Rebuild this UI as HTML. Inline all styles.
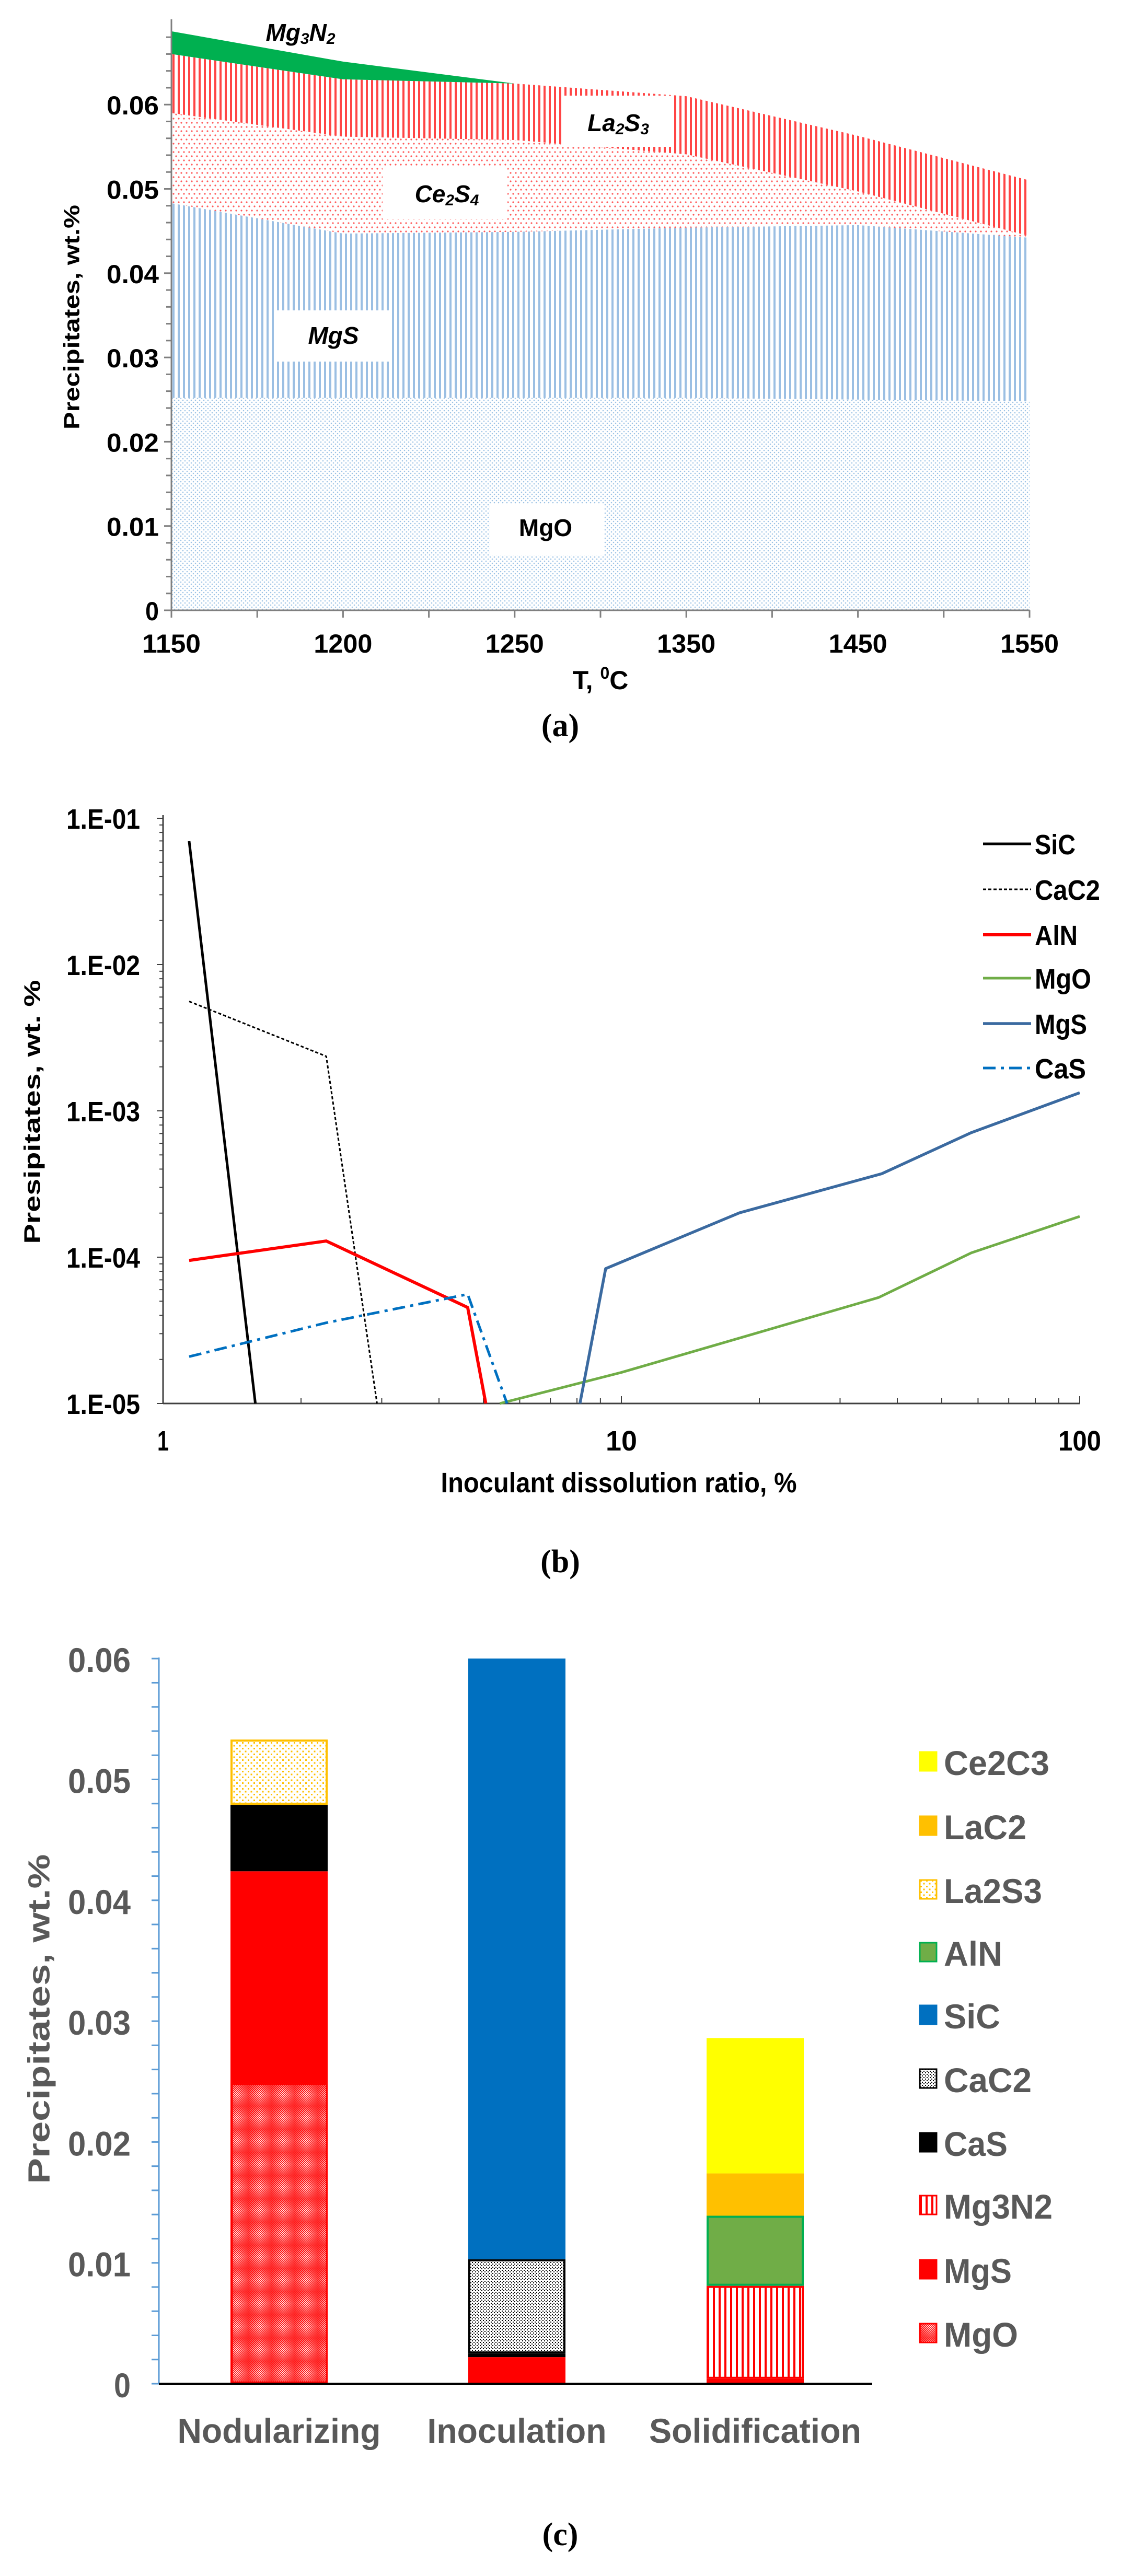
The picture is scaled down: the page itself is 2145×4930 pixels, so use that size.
<!DOCTYPE html>
<html><head><meta charset="utf-8">
<style>
html,body{margin:0;padding:0;background:#fff;}
svg{display:block;}
text{font-family:"Liberation Sans",Arial,sans-serif;}
text.serif{font-family:"Liberation Serif","Times New Roman",serif;}
</style></head>
<body>
<svg id="root" xmlns="http://www.w3.org/2000/svg" width="2145" height="4930" viewBox="0 0 2145 4930">
<defs>
<pattern id="pMgO" width="8" height="8" patternUnits="userSpaceOnUse"><circle cx="2" cy="2" r="1.3" fill="#9dc3e6"/><circle cx="6" cy="6" r="1.3" fill="#9dc3e6"/></pattern>
<pattern id="pMgS" width="10" height="10" patternUnits="userSpaceOnUse"><rect x="0" y="0" width="4" height="10" fill="#9bbfe3"/></pattern>
<pattern id="pCe" width="10" height="16" patternUnits="userSpaceOnUse"><circle cx="2" cy="3" r="1.6" fill="#ff5a5a"/><circle cx="7" cy="11" r="1.6" fill="#ff5a5a"/></pattern>
<pattern id="pLa" width="10" height="10" patternUnits="userSpaceOnUse"><rect x="0" y="0" width="4" height="10" fill="#ff4545"/></pattern>
<pattern id="cLa2S3" width="11" height="11" patternUnits="userSpaceOnUse"><rect width="11" height="11" fill="#fff"/><rect x="1" y="1" width="3" height="3" fill="#ffc000"/><rect x="6.5" y="6.5" width="3" height="3" fill="#ffc000"/></pattern>
<pattern id="cCaC2" width="6" height="6" patternUnits="userSpaceOnUse"><rect width="6" height="6" fill="#fff"/><rect x="0" y="0" width="2" height="2" fill="#000"/><rect x="3" y="3" width="2" height="2" fill="#000"/></pattern>
<pattern id="cMg3N2" width="11" height="11" patternUnits="userSpaceOnUse"><rect width="11" height="11" fill="#fff"/><rect x="0" y="0" width="4" height="11" fill="#ff0000"/></pattern>
<pattern id="cMgO" width="4" height="4" patternUnits="userSpaceOnUse"><rect width="4" height="4" fill="#ff1a1a"/><rect x="0" y="0" width="1.3" height="1.3" fill="#fff"/><rect x="2" y="2" width="1.3" height="1.3" fill="#fff"/></pattern>
</defs>
<g id="ga"></g>
<g id="gb"></g>
<g id="gc"></g>
</svg>
<script>
// ---------- Chart (a) data ----------
const tempLabels = ["1150","1200","1250","1350","1450","1550"];
const aMgO   = [0.0252,0.0252,0.0252,0.0252,0.0250,0.0248];
const aMgS   = [0.0231,0.0195,0.0197,0.0202,0.0207,0.0194];
const aCe2S4 = [0.0107,0.0115,0.0109,0.0087,0.0040,0.0002];
const aLa2S3 = [0.0070,0.0068,0.0067,0.0069,0.0066,0.0066];
const aMg3N2 = [0.0027,0.0021,0.0000,0.0000,0.0000,0.0000];
const aYTicks = [0,0.01,0.02,0.03,0.04,0.05,0.06];
const aYTickLabels = ["0","0.01","0.02","0.03","0.04","0.05","0.06"];

// ---------- Chart (b) data ----------
const sicX = [1.14,1.59];           const sicY = [0.0697,1e-5];
const cac2X = [1.14,2.27,2.93];     const cac2Y = [0.0056,0.00236,1e-5];
const alnX = [1.14,2.27,4.62,5.06]; const alnY = [9.5e-5,1.29e-4,4.53e-5,1e-5];
const mgoX = [5.43,10,18.1,36.4,58,100]; const mgoY = [1e-5,1.63e-5,2.8e-5,5.3e-5,1.07e-4,1.9e-4];
const mgsX = [8.12,9.24,18.1,37,58,100]; const mgsY = [1e-5,8.35e-5,2.01e-4,3.72e-4,7.1e-4,1.33e-3];
const casX = [1.14,2.26,4.62,5.63];  const casY = [2.09e-5,3.55e-5,5.58e-5,1e-5];
const bYTicks = [0.1,0.01,0.001,0.0001,0.00001];
const bYTickLabels = ["1.E-01","1.E-02","1.E-03","1.E-04","1.E-05"];
const bXTicks = [1,10,100];
const bXTickLabels = ["1","10","100"];
const bLegendNames = ["SiC","CaC2","AlN","MgO","MgS","CaS"];

// ---------- Chart (c) data ----------
const stages = ["Nodularizing","Inoculation","Solidification"];
const cMgO    = [0.0249,0,0];
const cMgS    = [0.0175,0.0022,0.0004];
const cMg3N2  = [0,0,0.0077];
const cCaS    = [0.0055,0.0003,0];
const cCaC2   = [0,0.0078,0];
const cSiC    = [0,0.0497,0];
const cAlN    = [0,0,0.0058];
const cLa2S3  = [0.0054,0,0];
const cLaC2   = [0,0,0.0035];
const cCe2C3  = [0,0,0.0112];
const cYTicks = [0,0.01,0.02,0.03,0.04,0.05,0.06];
const cYTickLabels = ["0","0.01","0.02","0.03","0.04","0.05","0.06"];

const NS="http://www.w3.org/2000/svg";
function mk(parent,tag,attrs){const e=document.createElementNS(NS,tag);for(const k in attrs)e.setAttribute(k,attrs[k]);parent.appendChild(e);return e;}
function txt(parent,x,y,s,attrs){const e=mk(parent,'text',Object.assign({x:x,y:y,'dominant-baseline':'central'},attrs));e.textContent=s;return e;}

// ================= Chart A =================
const ga=document.getElementById('ga');
const aL=328,aR=1970,aY0=1168,aPer=16130,aTop=37;
const aX=i=>aL+i*(aR-aL)/(tempLabels.length-1);
const aY=v=>aY0-v*aPer;
const layersA=[[aMgO,'url(#pMgO)','area-mgo'],[aMgS,'url(#pMgS)','area-mgs'],[aCe2S4,'url(#pCe)','area-ce2s4'],[aLa2S3,'url(#pLa)','area-la2s3'],[aMg3N2,'#00b050','area-mg3n2']];
let base=tempLabels.map(()=>0);
layersA.forEach(([vals,fill,name])=>{
  const top=base.map((b,i)=>b+vals[i]);
  let pts=top.map((v,i)=>aX(i)+','+aY(v));
  for(let i=base.length-1;i>=0;i--)pts.push(aX(i)+','+aY(base[i]));
  const p=mk(ga,'polygon',{points:pts.join(' '),fill:fill});
  
  
  base=top;
});
const aLabels=[[1077,183,209,98,'label-la2s3'],[732,317,239,103,'label-ce2s4'],[529,594,217,98,'label-mgs'],[937,964,219,99,'label-mgo']];
aLabels.forEach(l=>{
  const r=mk(ga,'rect',{x:l[0],y:l[1],width:l[2],height:l[3],fill:'#fff'});
  
  
});
function chemLabel(x,y,parts,italic,name){
  const t=mk(ga,'text',{x:x,y:y,'text-anchor':'middle','font-size':46,'font-weight':'bold','font-style':italic?'italic':'normal','dominant-baseline':'central'});
  
  
  parts.forEach((p,i)=>{if(!p)return;const s=mk(t,'tspan',{});if(i%2===1){s.setAttribute('font-size',30);s.setAttribute('dy',12);}else if(i>0){s.setAttribute('dy',-12);}s.textContent=p;});
}
chemLabel(575,62,['Mg','3','N','2'],true,'label-mg3n2');
chemLabel(1183,235,['La','2','S','3'],true,'label-la2s3');
chemLabel(855,371,['Ce','2','S','4'],true,'label-ce2s4');
chemLabel(638,642,['MgS'],true,'label-mgs');
chemLabel(1044,1010,['MgO'],false,'label-mgo');
let ax=mk(ga,'line',{x1:aL,y1:aTop,x2:aL,y2:aY0,stroke:'#7f7f7f','stroke-width':3});

ax=mk(ga,'line',{x1:aL,y1:aY0,x2:aR,y2:aY0,stroke:'#7f7f7f','stroke-width':3});

for(let v=0;v<=0.0681;v+=0.002){const maj=Math.abs(v*100-Math.round(v*100))<1e-6;mk(ga,'line',{x1:aL-(maj?14:10),y1:aY(v),x2:aL,y2:aY(v),stroke:'#7f7f7f','stroke-width':3});}
aYTicks.forEach((v,i)=>{const t=txt(ga,aL-24,aY(v)+2,aYTickLabels[i],{'text-anchor':'end','font-size':50,'font-weight':'bold',textLength:(i===0?26:100),lengthAdjust:'spacingAndGlyphs'});
  });
for(let i=0;i<=10;i++){const x=aL+i*(aR-aL)/10;mk(ga,'line',{x1:x,y1:aY0,x2:x,y2:aY0+14,stroke:'#7f7f7f','stroke-width':3});}
tempLabels.forEach((s,i)=>{const t=txt(ga,aX(i),1232,s,{'text-anchor':'middle','font-size':50,'font-weight':'bold',textLength:112,lengthAdjust:'spacingAndGlyphs'});
  });
let tt=mk(ga,'text',{x:1149,y:1302,'text-anchor':'middle','font-size':50,'font-weight':'bold','dominant-baseline':'central'});
tt.innerHTML='T, <tspan font-size="32" dy="-14">0</tspan><tspan dy="14">C</tspan>';

tt=txt(ga,0,0,'Precipitates, wt.%',{'text-anchor':'middle','font-size':42,'font-weight':'bold',transform:'translate(137,607) rotate(-90)',textLength:430,lengthAdjust:'spacingAndGlyphs'});

tt=txt(ga,1072,1389,'(a)',{'text-anchor':'middle','font-size':62,'font-weight':'bold','class':'serif'});


// ================= Chart B =================
const gb=document.getElementById('gb');
const bL=312,bR=2066,bTop=1566,bBot=2686,bDecX=877,bDecY=280;
const bX=v=>bL+Math.log10(v)*bDecX;
const bY=v=>bTop+(-1-Math.log10(v))*bDecY;
ax=mk(gb,'line',{x1:bL,y1:bTop-6,x2:bL,y2:bBot,stroke:'#404040','stroke-width':3});

ax=mk(gb,'line',{x1:bL,y1:bBot,x2:bR,y2:bBot,stroke:'#404040','stroke-width':3});

for(let d=-5;d<-1;d++){for(let m=1;m<10;m++){const v=m*Math.pow(10,d);mk(gb,'line',{x1:bL-(m===1?12:7),y1:bY(v),x2:bL,y2:bY(v),stroke:'#404040','stroke-width':2});}}
mk(gb,'line',{x1:bL-12,y1:bY(0.1),x2:bL,y2:bY(0.1),stroke:'#404040','stroke-width':2});
for(let d=0;d<2;d++){for(let m=1;m<10;m++){const x=bX(m*Math.pow(10,d));mk(gb,'line',{x1:x,y1:bBot,x2:x,y2:bBot-(m===1?14:10),stroke:'#404040','stroke-width':2});}}
mk(gb,'line',{x1:bR,y1:bBot,x2:bR,y2:bBot-14,stroke:'#404040','stroke-width':2});
bYTicks.forEach((v,i)=>{const t=txt(gb,268,bY(v)+2,bYTickLabels[i],{'text-anchor':'end','font-size':54,'font-weight':'bold',textLength:141,lengthAdjust:'spacingAndGlyphs'});
  });
bXTicks.forEach((v,i)=>{const t=txt(gb,bX(v),2758,bXTickLabels[i],{'text-anchor':'middle','font-size':54,'font-weight':'bold',textLength:[22,60,82][i],lengthAdjust:'spacingAndGlyphs'});
  });
tt=txt(gb,1184,2838,'Inoculant dissolution ratio, %',{'text-anchor':'middle','font-size':54,'font-weight':'bold',textLength:681,lengthAdjust:'spacingAndGlyphs'});

tt=txt(gb,0,0,'Presipitates, wt. %',{'text-anchor':'middle','font-size':44,'font-weight':'bold',transform:'translate(62,2128) rotate(-90)',textLength:505,lengthAdjust:'spacingAndGlyphs'});

const bSeries=[[sicX,sicY,'#000',5,'','line-sic'],[cac2X,cac2Y,'#000',3,'6,4','line-cac2'],[alnX,alnY,'#ff0000',6,'','line-aln'],[mgoX,mgoY,'#70ad47',5,'','line-mgo'],[mgsX,mgsY,'#3b6aa0',5.5,'','line-mgs'],[casX,casY,'#0070c0',5,'24,10,6,10','line-cas']];
bSeries.forEach(([xs,ys,c,w,da,name])=>{
  const p=mk(gb,'polyline',{points:xs.map((x,i)=>bX(x)+','+bY(ys[i])).join(' '),fill:'none',stroke:c,'stroke-width':w,'stroke-dasharray':da||'none','stroke-linejoin':'round'});
  
  
});
const legYs=[1615,1702,1789,1872,1959,2044];
bSeries.forEach((s,i)=>{
  const l=mk(gb,'line',{x1:1881,y1:legYs[i],x2:1973,y2:legYs[i],stroke:s[2],'stroke-width':s[3],'stroke-dasharray':s[4]||'none'});
  
  
  const t=txt(gb,1980,legYs[i]+2,bLegendNames[i],{'font-size':54,'font-weight':'bold',textLength:[78,125,82,108,100,98][i],lengthAdjust:'spacingAndGlyphs'});
  
  
});
tt=txt(gb,1072,2989,'(b)',{'text-anchor':'middle','font-size':62,'font-weight':'bold','class':'serif'});


// ================= Chart C =================
const gc=document.getElementById('gc');
const cAx=304,cY0=4562,cPer=23130,cRight=1669;
const cY=v=>cY0-v*cPer;
const barLeft=[441,896,1352],barW=186;
const cLayers=[[cMgO,'url(#cMgO)','#ff0000','MgO'],[cMgS,'#ff0000','#ff0000','MgS'],[cMg3N2,'url(#cMg3N2)','#ff0000','Mg3N2'],[cCaS,'#000','#000','CaS'],[cCaC2,'url(#cCaC2)','#000','CaC2'],[cSiC,'#0070c0','#0070c0','SiC'],[cAlN,'#70ad47','#00b050','AlN'],[cLa2S3,'url(#cLa2S3)','#ffc000','La2S3'],[cLaC2,'#ffc000','#ffc000','LaC2'],[cCe2C3,'#ffff00','#ffff00','Ce2C3']];
let cBase=stages.map(()=>0);
cLayers.forEach(([vals,fill,stroke,nm])=>{
  stages.forEach((s,i)=>{
    if(vals[i]<=0)return;
    const y1=cY(cBase[i]+vals[i]),y2=cY(cBase[i]);
    const r=mk(gc,'rect',{x:barLeft[i]+2,y:y1+2,width:barW-4,height:Math.max(0,y2-y1-4),fill:fill,stroke:stroke,'stroke-width':4});
    
    
  });
  cBase=cBase.map((b,i)=>b+vals[i]);
});
ax=mk(gc,'line',{x1:cAx,y1:cY(0.06)-2,x2:cAx,y2:cY0,stroke:'#5b9bd5','stroke-width':3});

for(let k=0;k<=30;k++){const v=k*0.002;mk(gc,'line',{x1:cAx-14,y1:cY(v),x2:cAx,y2:cY(v),stroke:'#5b9bd5','stroke-width':3});}
ax=mk(gc,'line',{x1:cAx,y1:cY0,x2:cRight,y2:cY0,stroke:'#000','stroke-width':4});

cYTicks.forEach((v,i)=>{const t=txt(gc,250,cY(v)+3,cYTickLabels[i],{'text-anchor':'end','font-size':66,'font-weight':'bold',fill:'#595959',textLength:(i===0?32:120),lengthAdjust:'spacingAndGlyphs'});
  });
const stageW=[389,343,406];
stages.forEach((s,i)=>{const t=txt(gc,barLeft[i]+barW/2,4652,s,{'text-anchor':'middle','font-size':66,'font-weight':'bold',fill:'#595959',textLength:stageW[i],lengthAdjust:'spacingAndGlyphs'});
  });
tt=txt(gc,0,0,'Precipitates, wt.%',{'text-anchor':'middle','font-size':58,'font-weight':'bold',fill:'#595959',transform:'translate(75,3864) rotate(-90)',textLength:631,lengthAdjust:'spacingAndGlyphs'});

const cLegYs=[3371,3494,3616,3736,3856,3978,4100,4220,4343,4465];
const cLegOrder=[9,8,7,6,5,4,3,2,1,0];
const cLegW=[202,158,188,112,108,168,122,208,130,142];
cLegOrder.forEach((li,k)=>{
  const L=cLayers[li];
  const r=mk(gc,'rect',{x:1760,y:cLegYs[k]-18,width:32,height:36,fill:L[1],stroke:L[2],'stroke-width':3});
  
  
  const t=txt(gc,1806,cLegYs[k]+3,L[3],{'font-size':66,'font-weight':'bold',fill:'#595959',textLength:cLegW[k],lengthAdjust:'spacingAndGlyphs'});
  
  
});
tt=txt(gc,1072,4851,'(c)',{'text-anchor':'middle','font-size':62,'font-weight':'bold','class':'serif'});

</script>
</body></html>
